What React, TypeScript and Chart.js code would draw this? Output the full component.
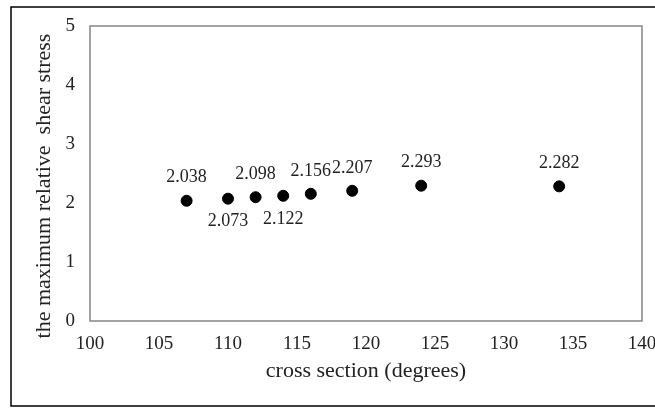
import React, { useEffect, useRef } from "react";
import { Chart, registerables } from "chart.js";

Chart.register(...registerables);

const crossSections = [107, 110, 112, 114, 116, 119, 124, 134];
const shearStress = [2.038, 2.073, 2.098, 2.122, 2.156, 2.207, 2.293, 2.282];
const pointLabels = ["2.038", "2.073", "2.098", "2.122", "2.156", "2.207", "2.293", "2.282"];
const labelBelow = [false, true, false, true, false, false, false, false];
const xTitle = "cross section (degrees)";
const yTitle = "the maximum relative  shear stress";

const SERIF = "'Liberation Serif', 'Times New Roman', serif";
const TEXT = "#222";

const framePlugin = {
  id: "frames",
  beforeDraw(chart: any) {
    const { ctx, width } = chart;
    ctx.save();
    ctx.fillStyle = "#fff";
    ctx.fillRect(0, 0, chart.width, chart.height);
    ctx.strokeStyle = "#000";
    ctx.lineWidth = 1.5;
    ctx.beginPath();
    ctx.moveTo(width + 2, 7);
    ctx.lineTo(11, 7);
    ctx.lineTo(11, 406);
    ctx.lineTo(width + 2, 406);
    ctx.stroke();
    ctx.restore();
  },
  beforeDatasetsDraw(chart: any) {
    const { ctx, chartArea: a } = chart;
    ctx.save();
    ctx.strokeStyle = "#868686";
    ctx.lineWidth = 1.5;
    ctx.strokeRect(a.left, a.top, a.right - a.left, a.bottom - a.top);
    ctx.restore();
  },
};

const labelPlugin = {
  id: "pointLabels",
  afterDatasetsDraw(chart: any) {
    const { ctx } = chart;
    const meta = chart.getDatasetMeta(0);
    ctx.save();
    ctx.font = `18px ${SERIF}`;
    ctx.fillStyle = TEXT;
    ctx.textAlign = "center";
    ctx.textBaseline = "middle";
    meta.data.forEach((el: any, i: number) => {
      const dy = labelBelow[i] ? 23 : -23;
      ctx.fillText(pointLabels[i], el.x, el.y + dy);
    });
    ctx.restore();
  },
};

const titlePlugin = {
  id: "axisTitles",
  afterDraw(chart: any) {
    const { ctx, chartArea: a } = chart;
    ctx.save();
    ctx.font = `22px ${SERIF}`;
    ctx.fillStyle = TEXT;
    ctx.textAlign = "center";
    ctx.textBaseline = "middle";
    ctx.fillText(xTitle, (a.left + a.right) / 2, 371);
    ctx.translate(44, 186);
    ctx.rotate(-Math.PI / 2);
    ctx.fillText(yTitle, 0, 0);
    ctx.restore();
  },
};

export default function App() {
  const ref = useRef<HTMLCanvasElement>(null);

  useEffect(() => {
    if (!ref.current) return;
    const chart = new Chart(ref.current, {
      type: "scatter",
      data: {
        datasets: [
          {
            label: "shear stress",
            data: crossSections.map((x, i) => ({ x, y: shearStress[i] })),
            backgroundColor: "#000",
            borderColor: "#000",
            pointRadius: 5.5,
            pointHoverRadius: 5.5,
          },
        ],
      },
      options: {
        responsive: false,
        animation: false,
        devicePixelRatio: 1,
        layout: { padding: { top: 26, right: 13, left: 0, bottom: 0 } },
        plugins: {
          legend: { display: false },
          tooltip: { enabled: false },
        },
        scales: {
          x: {
            type: "linear",
            min: 100,
            max: 140,
            grid: { display: false, drawTicks: false },
            border: { display: false },
            ticks: {
              stepSize: 5,
              padding: 12,
              color: TEXT,
              font: { family: SERIF, size: 19 },
              maxRotation: 0,
            },
            afterFit(scale: any) {
              scale.height = 87;
              scale.paddingLeft = 0;
              scale.paddingRight = 0;
            },
          },
          y: {
            type: "linear",
            min: 0,
            max: 5,
            grid: { display: false, drawTicks: false },
            border: { display: false },
            ticks: {
              stepSize: 1,
              padding: 15,
              color: TEXT,
              font: { family: SERIF, size: 19 },
            },
            afterFit(scale: any) {
              scale.width = 90;
              scale.paddingTop = 0;
              scale.paddingBottom = 0;
            },
          },
        },
      },
      plugins: [framePlugin, labelPlugin, titlePlugin],
    });
    return () => chart.destroy();
  }, []);

  return (
    <div style={{ position: "absolute", left: 0, top: 0, width: 655, height: 408 }}>
      <canvas ref={ref} width={655} height={408} style={{ display: "block" }} />
    </div>
  );
}
